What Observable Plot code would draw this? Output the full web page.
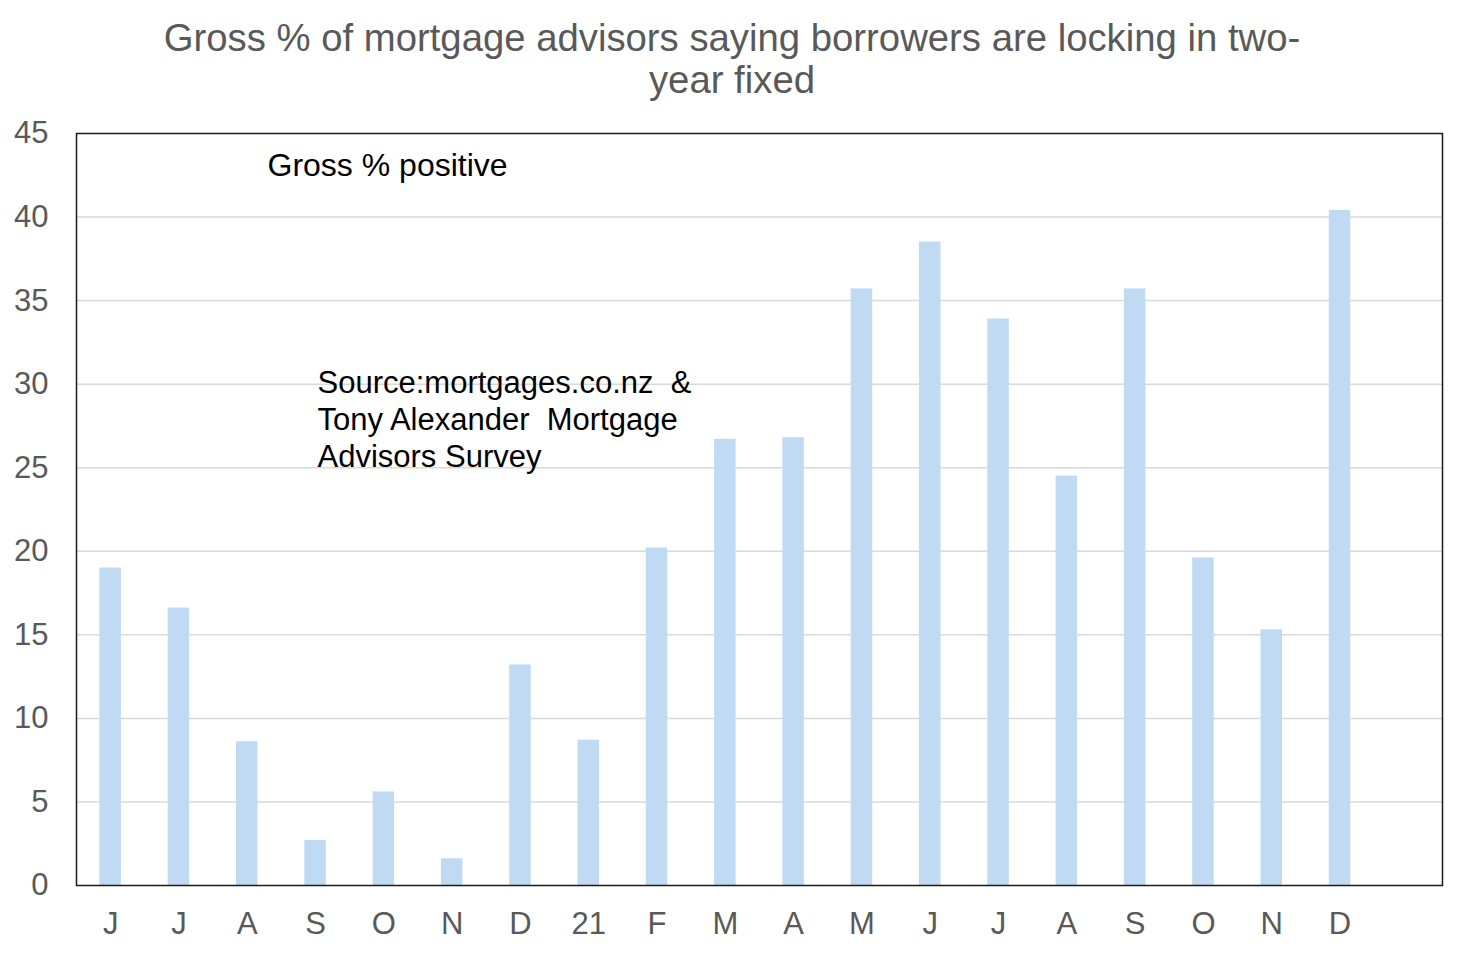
<!DOCTYPE html>
<html><head><meta charset="utf-8">
<script src="https://cdn.jsdelivr.net/npm/d3@7"></script>
<script src="https://cdn.jsdelivr.net/npm/@observablehq/plot@0.6"></script>
<style>
body{margin:0;background:#fff;}
#title{box-sizing:border-box;height:110px;padding-top:16.5px;text-align:center;font-family:"Liberation Sans",Arial,sans-serif;font-size:38.3px;line-height:42px;color:#595959;}
#chart svg text{white-space:pre;}
</style></head><body>
<div id="title">Gross % of mortgage advisors saying borrowers are locking in two-<br>year fixed</div>
<div id="chart"></div>
<script>
const monthLabels = ["J","J","A","S","O","N","D","21","F","M","A","M","J","J","A","S","O","N","D"];
const values = [19.0, 16.6, 8.6, 2.7, 5.6, 1.6, 13.2, 8.7, 20.2, 26.7, 26.8, 35.7, 38.5, 33.9, 24.5, 35.7, 19.6, 15.3, 40.4];
const slotCount = 20;
const yTicks = [0, 5, 10, 15, 20, 25, 30, 35, 40, 45];
const gridTicks = [5, 10, 15, 20, 25, 30, 35, 40];
const seriesNote = ["Gross % positive"];
const sourceNote = ["Source:mortgages.co.nz  &\nTony Alexander  Mortgage\nAdvisors Survey"];

const data = values.map((v, i) => ({i, label: monthLabels[i], value: v}));
const slots = d3.range(slotCount);

const chart = Plot.plot({
  width: 1464, height: 844,
  marginLeft: 76, marginRight: 22, marginTop: 23, marginBottom: 69,
  style: {fontFamily: '"Liberation Sans", Arial, sans-serif', background: "#fff", overflow: "visible"},
  x: {type: "band", domain: slots, paddingInner: 0.685, paddingOuter: 0.3425, round: false, axis: null},
  y: {domain: [0, 45], axis: null},
  marks: [
    Plot.ruleY(gridTicks, {stroke: "#d9d9d9", strokeWidth: 1.5}),
    Plot.barY(data, {x: "i", y: "value", fill: "#c0daf4"}),
    Plot.frame({stroke: "#1a1a1a", strokeWidth: 1.5}),
    Plot.axisX(slots, {tickSize: 0, tickPadding: 26, fontSize: 31, color: "#595959", tickFormat: i => monthLabels[i] ?? "", label: null}),
    Plot.axisY(yTicks, {tickSize: 0, tickPadding: 28, fontSize: 31, color: "#595959", label: null}),
    Plot.text(seriesNote, {frameAnchor: "top-left", textAnchor: "start", lineAnchor: "top", dx: 191, dy: 20, fontSize: 32, fill: "#000"}),
    Plot.text(sourceNote, {frameAnchor: "top-left", textAnchor: "start", lineAnchor: "top", dx: 241, dy: 233, fontSize: 31, lineHeight: 1.194, fill: "#000"})
  ]
});
document.getElementById("chart").appendChild(chart);
</script>
</body></html>
